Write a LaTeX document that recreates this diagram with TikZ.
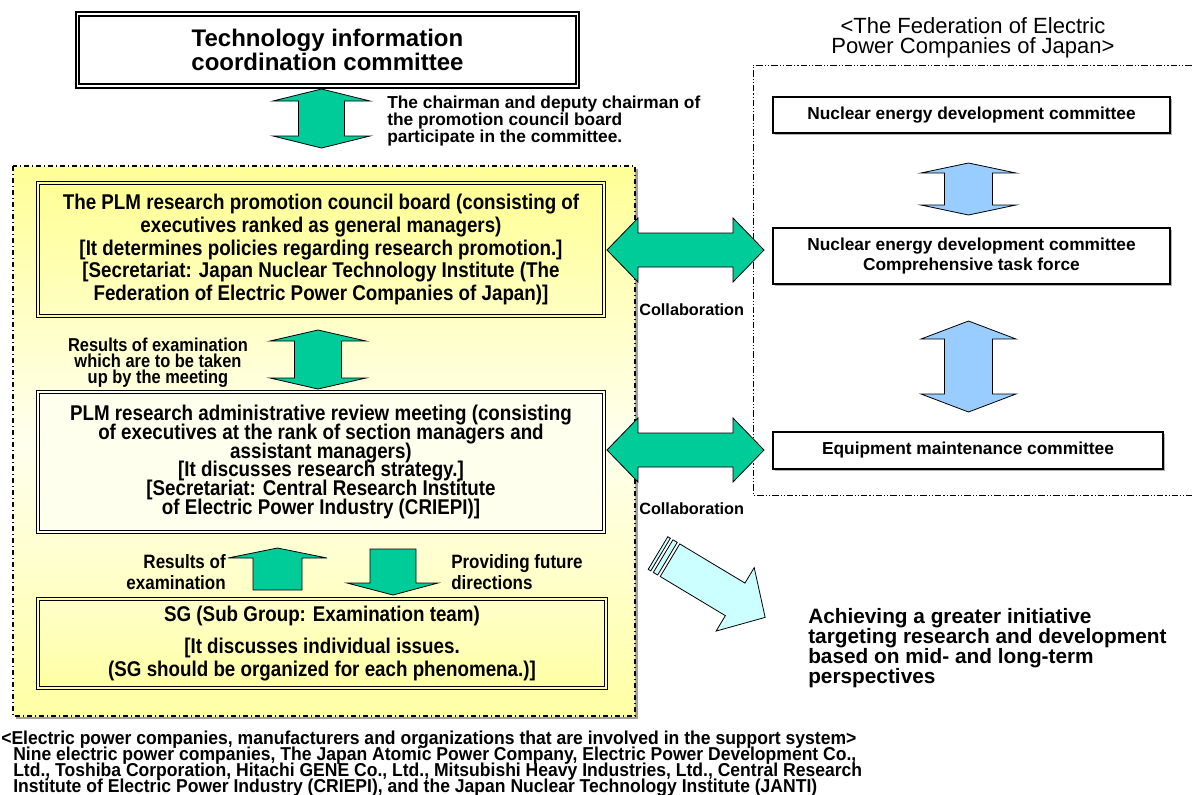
\documentclass[tikz,border=0pt]{standalone}
\usepackage{fontspec}
\setmainfont{Liberation Sans}
\newfontfamily\narrowfont{Liberation Sans}[FakeStretch=0.88]
\newfontfamily\footfont{Liberation Sans}[FakeStretch=0.94]
\usetikzlibrary{shadows}
\definecolor{arrowgreen}{RGB}{0,204,153}
\definecolor{arrowblue}{RGB}{153,204,255}
\definecolor{arrowcyan}{RGB}{204,255,255}
\definecolor{paneltop}{RGB}{255,255,150}
\definecolor{panelmid}{RGB}{255,255,238}
\definecolor{panelbot}{RGB}{255,255,165}
\lineskiplimit=-100pt

\newcommand{\vdblarrow}[7]{\draw[#1] (#2,#3) -- ({#2+#6},{#3+#7}) -- ({#2+#5},{#3+#7}) -- ({#2+#5},{#4-#7}) -- ({#2+#6},{#4-#7}) -- (#2,#4) -- ({#2-#6},{#4-#7}) -- ({#2-#5},{#4-#7}) -- ({#2-#5},{#3+#7}) -- ({#2-#6},{#3+#7}) -- cycle;}
\newcommand{\hdblarrow}[7]{\draw[#1] (#3,#2) -- ({#3+#7},{#2-#6}) -- ({#3+#7},{#2-#5}) -- ({#4-#7},{#2-#5}) -- ({#4-#7},{#2-#6}) -- (#4,#2) -- ({#4-#7},{#2+#6}) -- ({#4-#7},{#2+#5}) -- ({#3+#7},{#2+#5}) -- ({#3+#7},{#2+#6}) -- cycle;}

\tikzset{
  garrow/.style={fill=arrowgreen, draw=black, line width=0.6pt},
  barrow/.style={fill=arrowblue, draw=black, line width=0.6pt},
  carrow/.style={fill=arrowcyan, draw=black, line width=0.6pt},
  paneldash/.style={line width=0.9pt, dash pattern=on 4pt off 2pt on 1pt off 2pt},
  feddash/.style={line width=0.6pt, dash pattern=on 5pt off 1.5pt on 0.8pt off 1.5pt on 0.8pt off 1.5pt},
  techbox/.style={draw, line width=1.4pt, double=white, double distance=1.2pt, fill=white, inner sep=0pt,
    align=center, minimum width=375pt, minimum height=54pt,
    font=\bfseries\fontsize{18}{18.5}\selectfont,
    drop shadow={shadow xshift=1.5pt, shadow yshift=-1.5pt, fill=gray!70, opacity=1}},
  leftbox/.style={draw, line width=0.6pt, double distance=1.4pt, inner sep=0pt, align=center,
    minimum width=424.5pt, font=\narrowfont\bfseries\fontsize{16}{16.9}\selectfont,
    drop shadow={shadow xshift=1.2pt, shadow yshift=-1.2pt, fill=gray!70, opacity=1}},
  fedbox/.style={draw, line width=1.5pt, fill=white, inner sep=0pt, align=center,
    font=\bfseries\fontsize{13}{15.5}\selectfont,
    drop shadow={shadow xshift=1.2pt, shadow yshift=-1.2pt, fill=gray!60, opacity=1}},
  note/.style={inner sep=0pt, font=\narrowfont\bfseries\fontsize{14.5}{15.5}\selectfont},
  rnote/.style={inner sep=0pt, font=\bfseries\fontsize{13}{12.75}\selectfont}
}

\begin{document}
\begin{tikzpicture}[x=0.75pt,y=-0.75pt]
  \useasboundingbox (0,0) rectangle (1192,794);

  \fill[gray!75] (16,169) rectangle (638,719);
  \shade[top color=paneltop, bottom color=panelbot, middle color=panelmid] (13,166) rectangle (635,716);
  \draw[paneldash] (13,166) rectangle (635,716);
  \draw[feddash] (1192,65) -| (753,495) -- (1192,495);

  \node[techbox] (tech) at (327.5,50) {Technology information\\coordination committee};

  \node[leftbox, double=paneltop, minimum height=99.75pt, top color=paneltop, bottom color=panelmid!50!paneltop] (board) at (321,249.5)
    {The PLM research promotion council board (consisting of\\executives ranked as general managers)\\{}[It determines policies regarding research promotion.]\\{}[Secretariat: Japan Nuclear Technology Institute (The\\Federation of Electric Power Companies of Japan)]};
  \node[leftbox, double=panelmid, minimum height=105pt, fill=panelmid, font=\narrowfont\bfseries\fontsize{16}{14}\selectfont] (review) at (321,462)
    {PLM research administrative review meeting (consisting\\of executives at the rank of section managers and\\assistant managers)\\{}[It discusses research strategy.]\\{}[Secretariat: Central Research Institute\\of Electric Power Industry (CRIEPI)]};
  \node[leftbox, double=panelbot, minimum width=426pt, minimum height=66.75pt, top color=panelmid!50!panelbot, bottom color=panelbot] (sg) at (322,643.5)
    {SG (Sub Group: Examination team)\\[7pt]{}[It discusses individual issues.\\(SG should be organized for each phenomena.)]};

  \node[fedbox, minimum width=297.75pt, minimum height=27pt] (nedc) at (971.5,115) {Nuclear energy development committee};
  \node[fedbox, minimum width=297.75pt, minimum height=42pt] (taskforce) at (971.5,256) {Nuclear energy development committee\\Comprehensive task force};
  \node[fedbox, minimum width=292.5pt, minimum height=27.75pt] (maint) at (968,450.5) {Equipment maintenance committee};

  \vdblarrow{garrow}{321.5}{89}{148}{23}{48.5}{12}
  \vdblarrow{garrow}{318}{330}{389}{23.5}{48}{11}
  \vdblarrow{barrow}{968.5}{163}{215}{24}{47.5}{10}
  \vdblarrow{barrow}{968.5}{321}{412}{24}{47.5}{18}
  \hdblarrow{garrow}{250}{607}{764}{17}{32}{31}
  \hdblarrow{garrow}{450}{607}{764}{17}{32}{31}
  \draw[garrow] (277.5,548) -- (327,558) -- (302,558) -- (302,590) -- (253,590) -- (253,558) -- (228,558) -- cycle;
  \draw[garrow] (370,549) -- (416,549) -- (416,583) -- (438,583) -- (393,595) -- (347,583) -- (370,583) -- cycle;

  \begin{scope}[shift={(658,553)}, rotate=-31]
    \draw[carrow] (0,-19) rectangle (3,19);
    \draw[carrow] (6,-19) rectangle (11,19);
    \draw[carrow] (14,-19) -- (90,-19) -- (90,-37) -- (125,0) -- (90,37) -- (90,19) -- (14,19) -- cycle;
  \end{scope}

  \node[rnote, anchor=west, align=left] (chairnote) at (387,121) {The chairman and deputy chairman of\\the promotion council board\\participate in the committee.};
  \node[note, align=center, font=\narrowfont\bfseries\fontsize{14}{12}\selectfont] (examnote) at (158,363) {Results of examination\\which are to be taken\\up by the meeting};
  \node[note, anchor=east, align=right] (upnote) at (226,572) {Results of\\examination};
  \node[note, anchor=west, align=left] (downnote) at (451,572) {Providing future\\directions};
  \node[rnote, anchor=west, font=\bfseries\fontsize{12.2}{13}\selectfont] (collab1) at (639,310) {Collaboration};
  \node[rnote, anchor=west, font=\bfseries\fontsize{12.2}{13}\selectfont] (collab2) at (639,509) {Collaboration};
  \node[rnote, anchor=west, align=left, font=\bfseries\fontsize{15.6}{15}\selectfont] (achieve) at (808,648) {Achieving a greater initiative\\targeting research and development\\based on mid- and long-term\\perspectives};
  \node[inner sep=0pt, align=center, font=\fontsize{16.5}{15}\selectfont] (fedtitle) at (973,38) {<The Federation of Electric\\Power Companies of Japan>};
  \node[inner sep=0pt, anchor=north west, align=left, font=\footfont\bfseries\fontsize{14}{12}\selectfont] (support) at (1,731)
    {<Electric power companies, manufacturers and organizations that are involved in the support system>\\
     \hspace*{9pt}Nine electric power companies, The Japan Atomic Power Company, Electric Power Development Co.,\\
     \hspace*{9pt}Ltd., Toshiba Corporation, Hitachi GENE Co., Ltd., Mitsubishi Heavy Industries, Ltd., Central Research\\
     \hspace*{9pt}Institute of Electric Power Industry (CRIEPI), and the Japan Nuclear Technology Institute (JANTI)};
\end{tikzpicture}
\end{document}
